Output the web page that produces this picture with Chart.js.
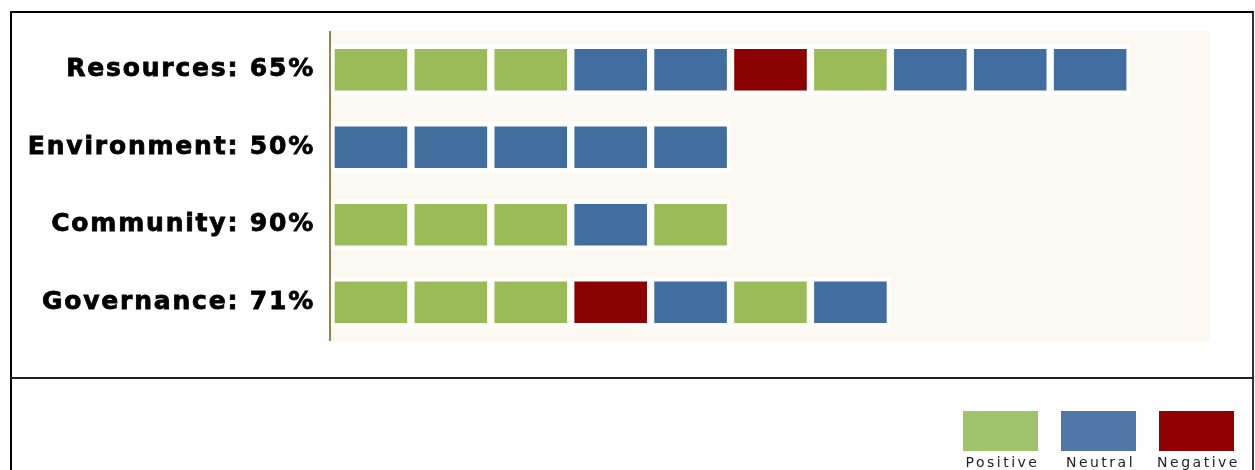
<!DOCTYPE html>
<html>
<head>
<meta charset="utf-8">
<script src="https://cdn.jsdelivr.net/npm/chart.js@4.4.0/dist/chart.umd.min.js"></script>
<style>
  html, body { margin:0; padding:0; background:#fff; }
  #wrap { position:relative; width:1255px; height:470px; overflow:hidden; }
  #c { position:absolute; left:0; top:0; }
  #frame { position:absolute; left:10px; top:11px; width:1240px; height:480px;
           border-left:2px solid #000; border-top:2px solid #000; border-right:2px solid #333; }
  #divider { position:absolute; left:10px; top:377px; width:1244px; height:2px; background:#222; }
</style>
</head>
<body>
<div id="wrap">
  <canvas id="c" width="1255" height="470"></canvas>
  <div id="frame"></div>
  <div id="divider"></div>
</div>
<script>
// ---- data ----
const categories = ['Resources', 'Environment', 'Community', 'Governance'];
const scores = [65, 50, 90, 71];
// sentiment of each block per row: P = positive, N = neutral, X = negative
const resourcesBlocks   = ['P','P','P','N','N','X','P','N','N','N'];
const environmentBlocks = ['N','N','N','N','N'];
const communityBlocks   = ['P','P','P','N','P'];
const governanceBlocks  = ['P','P','P','X','N','P','N'];
const legendLabels = ['Positive', 'Neutral', 'Negative'];
const legendKeys = ['P', 'N', 'X'];

// ---- styles ----
const barColors = { P: '#9bbb59', N: '#426d9f', X: '#8b0000' };
const legendColors = { P: '#a0c46c', N: '#4f78a8', X: '#920000' };

const rows = [resourcesBlocks, environmentBlocks, communityBlocks, governanceBlocks];
const labels = categories.map((c, i) => c + ': ' + scores[i] + '%');
const maxLen = Math.max(...rows.map(r => r.length));
const datasets = [];
for (let i = 0; i < maxLen; i++) {
  datasets.push({
    label: 'Block ' + (i + 1),
    data: rows.map(r => (r[i] ? 1 : null)),
    backgroundColor: rows.map(r => (r[i] ? barColors[r[i]] : 'transparent')),
    borderColor: '#ffffff',
    borderWidth: { top: 5, bottom: 5, left: 4, right: 4 },
    borderSkipped: false,
    barThickness: 51
  });
}

const bgPlugin = {
  id: 'bg',
  beforeDraw(chart) {
    const { ctx, chartArea: a } = chart;
    ctx.save();
    ctx.fillStyle = '#fcf9f3';
    ctx.fillRect(a.left, a.top, a.right - a.left, a.bottom - a.top);
    ctx.restore();
    try { ctx.letterSpacing = '1.8px'; } catch (e) {}
  },
  afterDatasetsDraw(chart) {
    const { ctx, chartArea: a } = chart;
    ctx.save();
    ctx.strokeStyle = '#a0824f';
    ctx.lineWidth = 2;
    ctx.beginPath();
    ctx.moveTo(a.left - 1, a.top);
    ctx.lineTo(a.left - 1, a.bottom);
    ctx.stroke();
    ctx.restore();
  }
};

const legendPlugin = {
  id: 'blockLegend',
  afterDraw(chart) {
    const ctx = chart.ctx;
    ctx.save();
    const xs = [963, 1061, 1159];
    legendKeys.forEach((k, i) => {
      const x = xs[i], y = 411, w = 75, h = 40;
      ctx.fillStyle = legendColors[k];
      ctx.fillRect(x, y, w, h);
      ctx.fillStyle = '#222';
      ctx.font = '14px "DejaVu Sans"';
      try { ctx.letterSpacing = '2.5px'; } catch (e) {}
      ctx.textAlign = 'center';
      ctx.textBaseline = 'top';
      ctx.fillText(legendLabels[i], x + w / 2 + 2, 456);
    });
    ctx.restore();
  }
};

new Chart(document.getElementById('c'), {
  type: 'bar',
  data: { labels, datasets },
  options: {
    indexAxis: 'y',
    responsive: false,
    animation: false,
    layout: { padding: { left: 0, right: 45, top: 30, bottom: 129 } },
    plugins: { legend: { display: false }, tooltip: { enabled: false } },
    scales: {
      x: { stacked: true, min: 0, max: 11, display: false },
      y: {
        stacked: true,
        afterFit(scale) { scale.width = 331; },
        grid: { display: false, drawTicks: false },
        border: { display: false },
        ticks: {
          color: '#000',
          padding: 16,
          textStrokeColor: '#000',
          textStrokeWidth: 0.8,
          font: { family: '"DejaVu Sans", Verdana, sans-serif', size: 25, weight: 'bold' }
        }
      }
    }
  },
  plugins: [bgPlugin, legendPlugin]
});
</script>
</body>
</html>
